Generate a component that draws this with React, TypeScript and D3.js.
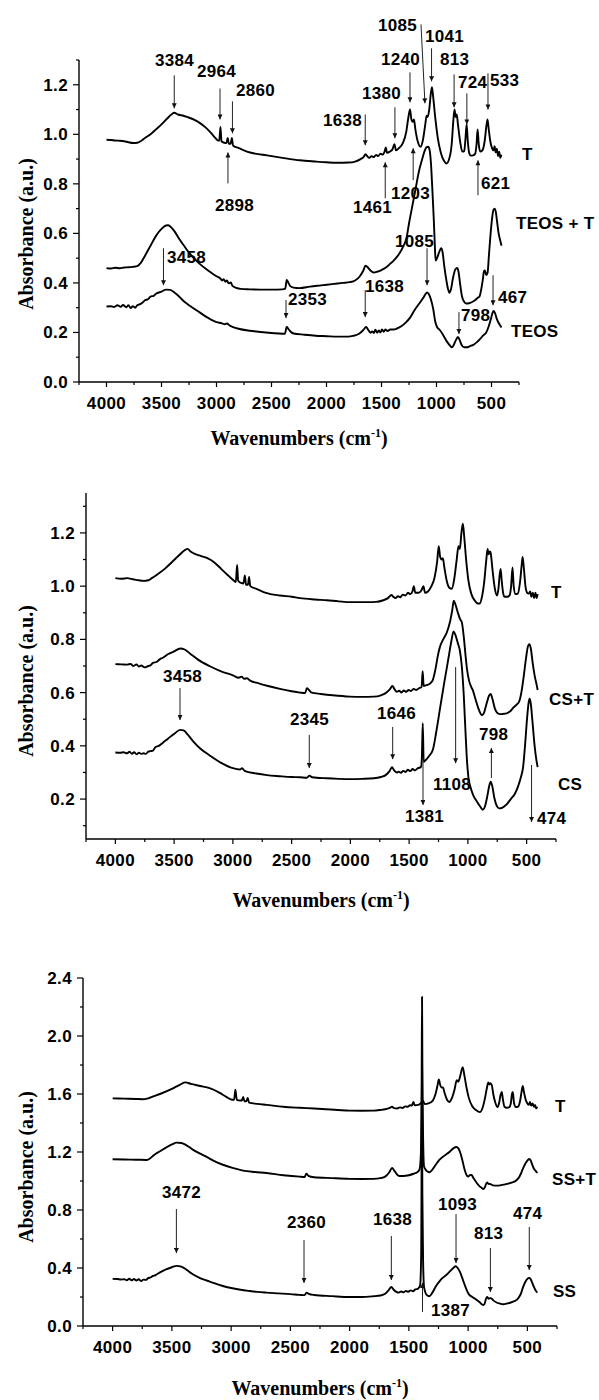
import React from 'react';
import * as d3 from 'd3';

type Pt = [number, number];
type Ann = { label: string; wn: number; from: number; to: number; lx: number; ly: number; wnTip?: number };
type Lab = { text: string; lx: number; ly: number };

// ---------- shared axis data ----------
const X_DOMAIN: [number, number] = [4250, 250];
const X_TICKS = [4000, 3500, 3000, 2500, 2000, 1500, 1000, 500];
const X_MINOR = [4250, 3750, 3250, 2750, 2250, 1750, 1250, 750, 250];
const X_TITLE = 'Wavenumbers (cm';
const Y_TITLE = 'Absorbance (a.u.)';

// ---------- Panel A : T / TEOS + T / TEOS ----------
const A_Y_TICKS = [0, 0.2, 0.4, 0.6, 0.8, 1.0, 1.2];
const A_Y_MINOR = [0.1, 0.3, 0.5, 0.7, 0.9, 1.1, 1.3];
const A_T: Pt[] = [
  [4000, 0.978], [3960, 0.977], [3920, 0.975], [3880, 0.974], [3840, 0.972], [3800, 0.968], [3760, 0.965],
  [3720, 0.966], [3690, 0.972], [3650, 0.985], [3600, 1.0], [3550, 1.02], [3500, 1.04], [3450, 1.063],
  [3410, 1.08], [3384, 1.087], [3350, 1.08], [3300, 1.075], [3268, 1.07], [3200, 1.058], [3150, 1.045],
  [3100, 1.028], [3059, 1.01], [3020, 0.99], [2990, 0.976], [2975, 0.974], [2964, 1.03], [2955, 0.972],
  [2930, 0.966], [2910, 0.965], [2898, 0.985], [2888, 0.962], [2872, 0.962], [2860, 0.985], [2850, 0.955],
  [2800, 0.945], [2723, 0.93], [2650, 0.922], [2541, 0.915], [2400, 0.905], [2241, 0.895], [2100, 0.89],
  [2000, 0.887], [1900, 0.885], [1800, 0.886], [1740, 0.89], [1690, 0.9], [1660, 0.91], [1645, 0.92],
  [1630, 0.912], [1610, 0.905], [1590, 0.912], [1570, 0.908], [1550, 0.917], [1530, 0.912], [1510, 0.922],
  [1490, 0.918], [1472, 0.93], [1461, 0.947], [1450, 0.925], [1425, 0.93], [1400, 0.94], [1382, 0.96],
  [1368, 0.935], [1340, 0.945], [1305, 0.965], [1275, 1.01], [1255, 1.07], [1241, 1.10], [1228, 1.06],
  [1216, 1.05], [1205, 1.06], [1192, 1.02], [1170, 0.97], [1145, 0.95], [1122, 0.98], [1102, 1.04],
  [1090, 1.075], [1080, 1.07], [1066, 1.1], [1050, 1.17], [1041, 1.19], [1030, 1.15], [1012, 1.07],
  [990, 0.99], [960, 0.925], [932, 0.893], [909, 0.882], [885, 0.9], [862, 0.96], [846, 1.06], [836, 1.10],
  [826, 1.07], [816, 1.08], [805, 1.04], [785, 0.97], [765, 0.93], [748, 0.932], [737, 0.98], [726, 1.04],
  [716, 0.975], [703, 0.925], [688, 0.914], [668, 0.915], [648, 0.922], [636, 0.96], [626, 1.02],
  [616, 0.96], [602, 0.93], [583, 0.935], [563, 0.97], [546, 1.035], [536, 1.06], [525, 1.02], [510, 0.97],
  [496, 0.945], [482, 0.935], [472, 0.952], [462, 0.927], [452, 0.942], [440, 0.912], [430, 0.93],
  [420, 0.905], [410, 0.918],
];
const A_TEOS_T: Pt[] = [
  [4000, 0.46], [3960, 0.458], [3920, 0.461], [3880, 0.459], [3840, 0.462], [3800, 0.463], [3760, 0.465],
  [3720, 0.468], [3690, 0.48], [3650, 0.51], [3600, 0.55], [3550, 0.59], [3500, 0.618], [3460, 0.632],
  [3440, 0.633], [3420, 0.628], [3380, 0.607], [3340, 0.578], [3300, 0.553], [3250, 0.522], [3200, 0.497],
  [3150, 0.476], [3100, 0.458], [3050, 0.442], [3000, 0.427], [2965, 0.418], [2950, 0.41], [2935, 0.415],
  [2920, 0.405], [2905, 0.41], [2890, 0.398], [2870, 0.402], [2855, 0.388], [2820, 0.38], [2780, 0.376],
  [2700, 0.374], [2600, 0.373], [2500, 0.373], [2400, 0.374], [2375, 0.377], [2362, 0.412], [2348, 0.402],
  [2330, 0.387], [2300, 0.381], [2245, 0.379], [2150, 0.385], [2050, 0.39], [1950, 0.395], [1850, 0.4],
  [1790, 0.403], [1740, 0.41], [1700, 0.425], [1665, 0.45], [1645, 0.47], [1630, 0.465], [1600, 0.45],
  [1570, 0.442], [1540, 0.445], [1500, 0.452], [1460, 0.462], [1427, 0.475], [1390, 0.49], [1360, 0.505],
  [1336, 0.52], [1300, 0.55], [1273, 0.58], [1250, 0.64], [1220, 0.71], [1190, 0.78], [1160, 0.85],
  [1130, 0.9], [1110, 0.93], [1090, 0.948], [1075, 0.95], [1062, 0.935], [1050, 0.88], [1038, 0.78],
  [1025, 0.66], [1015, 0.55], [1008, 0.49], [995, 0.5], [975, 0.525], [958, 0.54], [945, 0.525],
  [930, 0.47], [910, 0.41], [895, 0.375], [882, 0.36], [868, 0.375], [850, 0.42], [828, 0.455], [812, 0.46],
  [800, 0.445], [785, 0.395], [768, 0.345], [750, 0.325], [730, 0.317], [705, 0.318], [680, 0.322],
  [650, 0.33], [625, 0.34], [609, 0.345], [595, 0.37], [580, 0.41], [568, 0.447], [560, 0.45], [548, 0.432],
  [536, 0.44], [522, 0.52], [508, 0.6], [495, 0.66], [482, 0.695], [472, 0.70], [462, 0.69], [450, 0.65],
  [435, 0.6], [420, 0.57], [409, 0.55],
];
const A_TEOS: Pt[] = [
  [4000, 0.305], [3960, 0.306], [3930, 0.303], [3900, 0.31], [3870, 0.304], [3850, 0.311], [3820, 0.302],
  [3800, 0.31], [3780, 0.299], [3760, 0.306], [3740, 0.3], [3720, 0.31], [3700, 0.313], [3680, 0.318],
  [3650, 0.33], [3620, 0.335], [3600, 0.345], [3570, 0.348], [3550, 0.356], [3500, 0.365], [3458, 0.373],
  [3420, 0.372], [3380, 0.36], [3340, 0.345], [3300, 0.327], [3250, 0.31], [3200, 0.295], [3150, 0.28],
  [3100, 0.265], [3050, 0.252], [3000, 0.242], [2950, 0.237], [2925, 0.233], [2905, 0.236], [2880, 0.228],
  [2850, 0.222], [2800, 0.215], [2700, 0.207], [2600, 0.202], [2500, 0.198], [2400, 0.195], [2378, 0.195],
  [2362, 0.222], [2348, 0.215], [2330, 0.205], [2300, 0.196], [2200, 0.191], [2100, 0.187], [2000, 0.185],
  [1900, 0.183], [1800, 0.183], [1760, 0.186], [1700, 0.196], [1665, 0.21], [1640, 0.222], [1620, 0.21],
  [1600, 0.199], [1585, 0.204], [1570, 0.198], [1555, 0.211], [1540, 0.199], [1525, 0.208], [1510, 0.2],
  [1495, 0.212], [1480, 0.203], [1465, 0.212], [1445, 0.206], [1420, 0.212], [1390, 0.212], [1360, 0.216],
  [1320, 0.225], [1280, 0.24], [1240, 0.26], [1200, 0.29], [1160, 0.315], [1120, 0.34], [1100, 0.355],
  [1086, 0.362], [1072, 0.356], [1052, 0.335], [1030, 0.295], [1012, 0.245], [995, 0.222], [970, 0.21],
  [940, 0.19], [905, 0.163], [875, 0.146], [860, 0.14], [845, 0.148], [825, 0.168], [805, 0.182],
  [790, 0.17], [770, 0.148], [748, 0.14], [722, 0.14], [695, 0.145], [665, 0.15], [635, 0.16], [605, 0.173],
  [575, 0.188], [548, 0.2], [525, 0.225], [505, 0.255], [490, 0.28], [480, 0.287], [468, 0.278],
  [452, 0.255], [432, 0.236], [418, 0.226], [409, 0.22],
];
const A_ANN: Ann[] = [
  { label: '3384', wn: 3384, from: 1.238, to: 1.105, lx: 3559, ly: 1.274 },
  { label: '2964', wn: 2968, from: 1.185, to: 1.06, lx: 3177, ly: 1.23 },
  { label: '2860', wn: 2855, from: 1.133, to: 1.004, lx: 2823, ly: 1.153 },
  { label: '2898', wn: 2896, from: 0.802, to: 0.927, lx: 3014, ly: 0.69 },
  { label: '1638', wn: 1648, from: 1.08, to: 0.956, lx: 2032, ly: 1.032 },
  { label: '1380', wn: 1378, from: 1.109, to: 0.984, lx: 1677, ly: 1.141 },
  { label: '1240', wn: 1241, from: 1.25, to: 1.129, lx: 1505, ly: 1.278 },
  { label: '1085', wn: 1141, wnTip: 1105, from: 1.444, to: 1.125, lx: 1532, ly: 1.419 },
  { label: '1041', wn: 1045, from: 1.347, to: 1.214, lx: 1105, ly: 1.371 },
  { label: '813', wn: 840, from: 1.242, to: 1.109, lx: 968, ly: 1.278 },
  { label: '724', wn: 724, from: 1.165, to: 1.04, lx: 805, ly: 1.185 },
  { label: '533', wn: 532, from: 1.246, to: 1.1, lx: 514, ly: 1.194 },
  { label: '1461', wn: 1466, from: 0.742, to: 0.887, lx: 1759, ly: 0.681 },
  { label: '1203', wn: 1212, from: 0.815, to: 0.944, lx: 1414, ly: 0.738 },
  { label: '621', wn: 623, from: 0.754, to: 0.895, lx: 595, ly: 0.778 },
  { label: '3458', wn: 3482, from: 0.54, to: 0.391, lx: 3450, ly: 0.48 },
  { label: '2353', wn: 2368, from: 0.331, to: 0.258, lx: 2350, ly: 0.31 },
  { label: '1638', wn: 1648, from: 0.371, to: 0.262, lx: 1650, ly: 0.363 },
  { label: '1085', wn: 1086, from: 0.54, to: 0.391, lx: 1377, ly: 0.544 },
  { label: '798', wn: 796, from: 0.282, to: 0.194, lx: 777, ly: 0.246 },
  { label: '467', wn: 486, from: 0.431, to: 0.31, lx: 441, ly: 0.319 },
];
const A_LAB: Lab[] = [
  { text: 'T', lx: 223, ly: 0.895 },
  { text: 'TEOS + T', lx: 277, ly: 0.617 },
  { text: 'TEOS', lx: 323, ly: 0.181 },
];

// ---------- Panel B : T / CS+T / CS ----------
const B_Y_TICKS = [0.2, 0.4, 0.6, 0.8, 1.0, 1.2];
const B_Y_MINOR = [0.1, 0.3, 0.5, 0.7, 0.9, 1.1, 1.3];
const B_T: Pt[] = [
  [4000, 1.03], [3950, 1.028], [3900, 1.03], [3850, 1.026], [3800, 1.022], [3760, 1.02], [3720, 1.022],
  [3690, 1.03], [3640, 1.045], [3580, 1.065], [3520, 1.09], [3460, 1.115], [3410, 1.135], [3385, 1.14],
  [3360, 1.13], [3320, 1.12], [3270, 1.113], [3218, 1.105], [3160, 1.09], [3100, 1.065], [3040, 1.04],
  [2990, 1.02], [2975, 1.015], [2964, 1.08], [2955, 1.02], [2930, 1.012], [2910, 1.01], [2898, 1.04],
  [2888, 1.005], [2872, 1.005], [2862, 1.035], [2852, 1.0], [2800, 0.99], [2720, 0.975], [2600, 0.965],
  [2500, 0.96], [2428, 0.955], [2300, 0.95], [2200, 0.947], [2100, 0.943], [2000, 0.94], [1919, 0.94],
  [1850, 0.94], [1780, 0.941], [1720, 0.947], [1680, 0.955], [1650, 0.967], [1635, 0.96], [1615, 0.955],
  [1595, 0.962], [1575, 0.958], [1555, 0.968], [1530, 0.965], [1510, 0.975], [1490, 0.97], [1472, 0.98],
  [1460, 1.0], [1448, 0.975], [1420, 0.975], [1395, 0.985], [1378, 1.0], [1365, 0.975], [1340, 0.98],
  [1310, 1.0], [1285, 1.03], [1262, 1.09], [1248, 1.15], [1236, 1.11], [1222, 1.1], [1213, 1.105],
  [1200, 1.07], [1180, 1.02], [1160, 0.995], [1137, 0.99], [1115, 1.03], [1095, 1.1], [1080, 1.15],
  [1068, 1.14], [1055, 1.2], [1043, 1.235], [1032, 1.19], [1015, 1.1], [995, 1.02], [970, 0.97],
  [940, 0.945], [915, 0.935], [899, 0.935], [880, 0.96], [860, 1.02], [843, 1.1], [832, 1.14], [824, 1.12],
  [812, 1.13], [806, 1.125], [790, 1.06], [772, 0.995], [752, 0.965], [740, 0.99], [730, 1.04],
  [721, 1.065], [712, 1.02], [700, 0.975], [688, 0.96], [665, 0.96], [645, 0.965], [632, 1.0], [620, 1.07],
  [610, 1.0], [595, 0.97], [575, 0.972], [555, 1.02], [542, 1.08], [534, 1.11], [524, 1.07], [510, 1.0],
  [495, 0.975], [482, 0.972], [470, 0.98], [460, 0.96], [448, 0.975], [436, 0.955], [425, 0.975],
  [415, 0.955], [406, 0.97],
];
const B_CST: Pt[] = [
  [4000, 0.707], [3950, 0.706], [3900, 0.705], [3870, 0.708], [3850, 0.7], [3820, 0.706], [3800, 0.698],
  [3780, 0.702], [3750, 0.695], [3720, 0.7], [3700, 0.703], [3680, 0.712], [3650, 0.715], [3620, 0.726],
  [3600, 0.73], [3550, 0.745], [3500, 0.755], [3448, 0.766], [3410, 0.762], [3360, 0.745], [3300, 0.725],
  [3200, 0.7], [3100, 0.68], [3000, 0.665], [2950, 0.656], [2925, 0.66], [2905, 0.652], [2880, 0.654],
  [2853, 0.645], [2780, 0.635], [2700, 0.625], [2600, 0.614], [2500, 0.605], [2428, 0.6], [2385, 0.598],
  [2370, 0.617], [2352, 0.61], [2330, 0.6], [2250, 0.595], [2150, 0.59], [2004, 0.585], [1900, 0.584],
  [1800, 0.585], [1740, 0.59], [1700, 0.598], [1665, 0.612], [1642, 0.625], [1625, 0.613], [1605, 0.603],
  [1585, 0.607], [1565, 0.6], [1545, 0.608], [1525, 0.603], [1505, 0.61], [1485, 0.606], [1460, 0.614],
  [1440, 0.61], [1410, 0.618], [1394, 0.62], [1385, 0.68], [1376, 0.625], [1350, 0.628], [1320, 0.635],
  [1298, 0.648], [1275, 0.69], [1255, 0.74], [1239, 0.77], [1210, 0.8], [1180, 0.825], [1150, 0.87],
  [1133, 0.91], [1120, 0.945], [1105, 0.93], [1085, 0.9], [1065, 0.875], [1052, 0.865], [1035, 0.81],
  [1020, 0.74], [1008, 0.69], [990, 0.645], [970, 0.62], [959, 0.61], [935, 0.575], [910, 0.54],
  [890, 0.52], [880, 0.515], [862, 0.525], [840, 0.56], [818, 0.59], [806, 0.595], [792, 0.578],
  [770, 0.54], [748, 0.523], [725, 0.519], [700, 0.52], [670, 0.522], [640, 0.53], [610, 0.545],
  [585, 0.555], [565, 0.565], [545, 0.6], [525, 0.66], [505, 0.73], [488, 0.775], [476, 0.782],
  [464, 0.765], [448, 0.71], [430, 0.66], [415, 0.63], [406, 0.61],
];
const B_CS: Pt[] = [
  [4000, 0.375], [3960, 0.374], [3930, 0.376], [3900, 0.372], [3880, 0.378], [3860, 0.37], [3840, 0.376],
  [3820, 0.368], [3800, 0.374], [3780, 0.37], [3760, 0.372], [3740, 0.37], [3720, 0.378], [3700, 0.38],
  [3680, 0.382], [3660, 0.395], [3630, 0.4], [3600, 0.41], [3550, 0.428], [3500, 0.445], [3448, 0.46],
  [3420, 0.458], [3380, 0.44], [3330, 0.413], [3278, 0.39], [3200, 0.365], [3100, 0.336], [3000, 0.316],
  [2940, 0.311], [2922, 0.316], [2900, 0.306], [2800, 0.296], [2710, 0.29], [2600, 0.286], [2500, 0.283],
  [2428, 0.282], [2370, 0.28], [2348, 0.288], [2325, 0.282], [2200, 0.278], [2100, 0.276], [2004, 0.275],
  [1900, 0.276], [1800, 0.278], [1740, 0.283], [1700, 0.29], [1665, 0.306], [1646, 0.32], [1628, 0.308],
  [1605, 0.3], [1588, 0.303], [1570, 0.299], [1550, 0.306], [1530, 0.302], [1510, 0.31], [1490, 0.305],
  [1470, 0.313], [1450, 0.308], [1425, 0.316], [1400, 0.32], [1392, 0.35], [1384, 0.485], [1376, 0.34],
  [1362, 0.345], [1330, 0.362], [1298, 0.385], [1270, 0.45], [1239, 0.535], [1200, 0.64], [1165, 0.73],
  [1140, 0.795], [1122, 0.83], [1105, 0.815], [1085, 0.785], [1069, 0.76], [1052, 0.7], [1035, 0.59],
  [1020, 0.45], [1007, 0.34], [995, 0.28], [978, 0.245], [955, 0.215], [925, 0.192], [895, 0.172],
  [874, 0.16], [855, 0.172], [835, 0.21], [818, 0.25], [806, 0.265], [792, 0.248], [775, 0.205],
  [755, 0.175], [735, 0.165], [705, 0.168], [670, 0.18], [635, 0.2], [600, 0.22], [575, 0.245],
  [550, 0.28], [530, 0.32], [512, 0.41], [495, 0.51], [482, 0.565], [474, 0.577], [465, 0.56],
  [450, 0.49], [432, 0.4], [418, 0.35], [406, 0.32],
];
const B_ANN: Ann[] = [
  { label: '3458', wn: 3450, from: 0.617, to: 0.497, lx: 3595, ly: 0.64 },
  { label: '2345', wn: 2350, from: 0.441, to: 0.317, lx: 2514, ly: 0.478 },
  { label: '1646', wn: 1640, from: 0.471, to: 0.35, lx: 1773, ly: 0.5 },
  { label: '1381', wn: 1382, from: 0.358, to: 0.178, lx: 1535, ly: 0.114 },
  { label: '1108', wn: 1104, from: 0.696, to: 0.335, lx: 1297, ly: 0.234 },
  { label: '798', wn: 800, from: 0.279, to: 0.392, lx: 905, ly: 0.422 },
  { label: '474', wn: 458, from: 0.328, to: 0.114, lx: 412, ly: 0.107 },
];
const B_LAB: Lab[] = [
  { text: 'T', lx: 293, ly: 0.955 },
  { text: 'CS+T', lx: 310, ly: 0.554 },
  { text: 'CS', lx: 233, ly: 0.234 },
];

// ---------- Panel C : T / SS+T / SS ----------
const C_Y_TICKS = [0, 0.4, 0.8, 1.2, 1.6, 2.0, 2.4];
const C_Y_MINOR = [0.2, 0.6, 1.0, 1.4, 1.8, 2.2];
const C_T: Pt[] = [
  [4000, 1.57], [3900, 1.568], [3800, 1.566], [3750, 1.564], [3700, 1.57], [3650, 1.585], [3600, 1.6],
  [3500, 1.635], [3430, 1.665], [3385, 1.68], [3340, 1.67], [3260, 1.655], [3182, 1.64], [3100, 1.61],
  [3040, 1.58], [2988, 1.56], [2975, 1.56], [2964, 1.63], [2952, 1.56], [2925, 1.555], [2910, 1.555],
  [2898, 1.58], [2888, 1.55], [2872, 1.55], [2860, 1.572], [2848, 1.54], [2780, 1.532], [2700, 1.525],
  [2560, 1.512], [2423, 1.505], [2300, 1.5], [2200, 1.495], [2100, 1.49], [2002, 1.485], [1900, 1.484],
  [1800, 1.485], [1740, 1.49], [1700, 1.495], [1665, 1.503], [1642, 1.512], [1625, 1.503], [1600, 1.5],
  [1575, 1.508], [1555, 1.503], [1530, 1.515], [1510, 1.512], [1490, 1.522], [1475, 1.52], [1462, 1.545],
  [1450, 1.522], [1420, 1.525], [1400, 1.535], [1380, 1.552], [1366, 1.53], [1335, 1.535], [1300, 1.553],
  [1275, 1.6], [1258, 1.66], [1247, 1.7], [1235, 1.66], [1222, 1.645], [1213, 1.645], [1198, 1.605],
  [1178, 1.56], [1160, 1.545], [1138, 1.57], [1115, 1.63], [1096, 1.695], [1084, 1.685], [1068, 1.72],
  [1046, 1.785], [1032, 1.73], [1015, 1.65], [995, 1.575], [965, 1.515], [935, 1.49], [901, 1.475],
  [880, 1.5], [858, 1.57], [842, 1.64], [830, 1.68], [821, 1.665], [812, 1.675], [800, 1.66], [788, 1.6],
  [772, 1.545], [752, 1.51], [738, 1.54], [726, 1.595], [716, 1.615], [706, 1.56], [693, 1.512],
  [675, 1.505], [655, 1.508], [640, 1.535], [630, 1.6], [623, 1.615], [613, 1.54], [597, 1.51],
  [580, 1.512], [562, 1.55], [548, 1.62], [539, 1.655], [528, 1.61], [514, 1.56], [500, 1.535],
  [488, 1.525], [478, 1.545], [468, 1.52], [456, 1.535], [445, 1.512], [435, 1.525], [425, 1.5],
  [416, 1.512],
];
const C_SST: Pt[] = [
  [4000, 1.15], [3900, 1.148], [3800, 1.147], [3713, 1.145], [3680, 1.158], [3650, 1.18], [3600, 1.205],
  [3550, 1.23], [3500, 1.252], [3460, 1.265], [3420, 1.262], [3380, 1.248], [3330, 1.22], [3266, 1.19],
  [3200, 1.163], [3150, 1.14], [3070, 1.112], [2988, 1.09], [2900, 1.072], [2800, 1.062], [2702, 1.055],
  [2560, 1.04], [2423, 1.03], [2380, 1.028], [2365, 1.05], [2348, 1.036], [2300, 1.026], [2150, 1.02],
  [2002, 1.015], [1900, 1.014], [1800, 1.015], [1740, 1.02], [1700, 1.03], [1665, 1.06], [1642, 1.09],
  [1622, 1.07], [1600, 1.045], [1580, 1.035], [1550, 1.035], [1500, 1.04], [1460, 1.05], [1430, 1.06],
  [1410, 1.08], [1398, 1.2], [1392, 1.7], [1389, 2.27], [1386, 1.8], [1380, 1.3], [1372, 1.1],
  [1350, 1.07], [1327, 1.06], [1305, 1.075], [1275, 1.11], [1243, 1.145], [1200, 1.175], [1158, 1.2],
  [1125, 1.225], [1100, 1.235], [1082, 1.225], [1066, 1.195], [1049, 1.145], [1030, 1.08], [1012, 1.04],
  [1000, 1.03], [985, 1.04], [972, 1.042], [955, 1.02], [930, 0.99], [905, 0.965], [885, 0.952],
  [873, 0.945], [860, 0.955], [848, 0.98], [839, 0.99], [828, 0.98], [810, 0.978], [790, 0.97],
  [760, 0.968], [730, 0.97], [700, 0.975], [660, 0.982], [627, 0.99], [600, 1.0], [575, 1.02],
  [555, 1.05], [540, 1.08], [520, 1.115], [500, 1.14], [486, 1.152], [474, 1.145], [460, 1.115],
  [445, 1.085], [430, 1.07], [416, 1.055],
];
const C_SS: Pt[] = [
  [4000, 0.325], [3960, 0.324], [3930, 0.321], [3900, 0.322], [3880, 0.316], [3860, 0.326], [3840, 0.315],
  [3820, 0.324], [3800, 0.314], [3780, 0.322], [3760, 0.31], [3740, 0.32], [3720, 0.318], [3700, 0.33],
  [3680, 0.335], [3660, 0.345], [3640, 0.35], [3600, 0.37], [3550, 0.39], [3500, 0.405], [3460, 0.415],
  [3420, 0.41], [3380, 0.39], [3330, 0.36], [3266, 0.332], [3200, 0.312], [3150, 0.297], [3070, 0.276],
  [2988, 0.26], [2920, 0.25], [2850, 0.242], [2780, 0.235], [2702, 0.23], [2600, 0.225], [2500, 0.22],
  [2423, 0.215], [2380, 0.213], [2364, 0.23], [2345, 0.222], [2300, 0.214], [2150, 0.206], [2002, 0.2],
  [1900, 0.2], [1800, 0.205], [1740, 0.21], [1700, 0.222], [1668, 0.25], [1648, 0.27], [1628, 0.25],
  [1605, 0.235], [1585, 0.23], [1565, 0.238], [1545, 0.232], [1525, 0.242], [1505, 0.236], [1485, 0.246],
  [1465, 0.24], [1445, 0.252], [1425, 0.256], [1405, 0.28], [1396, 0.5], [1390, 1.5], [1386, 0.9],
  [1380, 0.45], [1372, 0.27], [1350, 0.215], [1327, 0.205], [1300, 0.232], [1268, 0.28], [1240, 0.31],
  [1218, 0.33], [1180, 0.355], [1150, 0.38], [1125, 0.4], [1106, 0.412], [1088, 0.4], [1070, 0.375],
  [1049, 0.33], [1025, 0.275], [1005, 0.235], [993, 0.218], [965, 0.2], [935, 0.185], [905, 0.165],
  [885, 0.15], [873, 0.145], [862, 0.152], [848, 0.19], [839, 0.2], [828, 0.188], [815, 0.192],
  [805, 0.19], [785, 0.175], [760, 0.162], [735, 0.155], [705, 0.15], [670, 0.155], [640, 0.162],
  [610, 0.172], [590, 0.18], [570, 0.2], [552, 0.228], [538, 0.265], [520, 0.3], [500, 0.325],
  [486, 0.332], [474, 0.325], [460, 0.3], [445, 0.27], [430, 0.245], [416, 0.23],
];
const C_ANN: Ann[] = [
  { label: '3472', wn: 3462, from: 0.807, to: 0.503, lx: 3583, ly: 0.883 },
  { label: '2360', wn: 2385, from: 0.593, to: 0.297, lx: 2528, ly: 0.676 },
  { label: '1638', wn: 1648, from: 0.621, to: 0.317, lx: 1803, ly: 0.697 },
  { label: '1093', wn: 1102, from: 0.772, to: 0.434, lx: 1254, ly: 0.8 },
  { label: '813', wn: 812, from: 0.538, to: 0.234, lx: 950, ly: 0.6 },
  { label: '474', wn: 484, from: 0.683, to: 0.386, lx: 621, ly: 0.738 },
  { label: '1387', wn: 1385, from: 0.097, to: 0.297, lx: 1313, ly: 0.069 },
];
const C_LAB: Lab[] = [
  { text: 'T', lx: 267, ly: 1.476 },
  { text: 'SS+T', lx: 292, ly: 0.972 },
  { text: 'SS', lx: 284, ly: 0.2 },
];

// ---------- layout ----------
type Cfg = {
  left: number; right: number; top: number; bottom: number; yDomain: [number, number];
  titleDy: number; yLabelDy: number;
};
const SANS = '"Liberation Sans", Arial, Helvetica, sans-serif';
const SERIF = '"Liberation Serif", "Times New Roman", Times, serif';

function Panel(props: {
  id: string; cfg: Cfg; series: Pt[][]; anns: Ann[]; labs: Lab[]; yTicks: number[]; yMinor: number[];
}) {
  const { id, cfg, series, anns, labs, yTicks, yMinor } = props;
  const x = d3.scaleLinear().domain(X_DOMAIN).range([cfg.left, cfg.right]);
  const y = d3.scaleLinear().domain(cfg.yDomain).range([cfg.bottom, cfg.top]);
  const line = d3.line<Pt>().x(d => x(d[0])).y(d => y(d[1])).curve(d3.curveMonotoneX);
  const fmt = d3.format('.1f');
  const cx = (cfg.left + cfg.right) / 2;
  const cy = (cfg.top + cfg.bottom) / 2 + cfg.yLabelDy;
  return (
    <g>
      <defs>
        <marker id={`ah-${id}`} viewBox="0 0 10 10" refX="10" refY="5" markerUnits="userSpaceOnUse"
          markerWidth="7" markerHeight="5" orient="auto">
          <path d="M0,0 L10,5 L0,10 z" fill="#111" />
        </marker>
      </defs>
      {series.map((s, i) => (
        <path key={i} d={line(s) || ''} fill="none" stroke="#000" strokeWidth={1.9} strokeLinejoin="round" />
      ))}
      {/* axes */}
      <line x1={cfg.left} x2={cfg.right} y1={cfg.bottom} y2={cfg.bottom} stroke="#000" strokeWidth={1.4} />
      <line x1={cfg.left} x2={cfg.left} y1={cfg.top} y2={cfg.bottom} stroke="#000" strokeWidth={1.4} />
      {X_TICKS.map(t => (
        <g key={'xt' + t}>
          <line x1={x(t)} x2={x(t)} y1={cfg.bottom} y2={cfg.bottom + 5} stroke="#000" strokeWidth={1.2} />
          <text x={x(t)} y={cfg.bottom + 27} textAnchor="middle" fontFamily={SANS} fontWeight="bold"
            fontSize={17} letterSpacing={0.4}>{t}</text>
        </g>
      ))}
      {X_MINOR.map(t => (
        <line key={'xm' + t} x1={x(t)} x2={x(t)} y1={cfg.bottom} y2={cfg.bottom + 3} stroke="#000" strokeWidth={1.2} />
      ))}
      {yTicks.map(t => (
        <g key={'yt' + t}>
          <line x1={cfg.left - 6} x2={cfg.left} y1={y(t)} y2={y(t)} stroke="#000" strokeWidth={1.2} />
          <text x={cfg.left - 11} y={y(t) + 6} textAnchor="end" fontFamily={SANS} fontWeight="bold"
            fontSize={17} letterSpacing={0.4}>{fmt(t)}</text>
        </g>
      ))}
      {yMinor.map(t => (
        <line key={'ym' + t} x1={cfg.left - 3} x2={cfg.left} y1={y(t)} y2={y(t)} stroke="#000" strokeWidth={1.2} />
      ))}
      <text x={cx} y={cfg.bottom + cfg.titleDy} textAnchor="middle" fontFamily={SERIF} fontWeight="bold" fontSize={20}>
        {X_TITLE}<tspan fontSize={12} dy={-8}>-1</tspan><tspan dy={8}>)</tspan>
      </text>
      <text transform={`translate(33,${cy}) rotate(-90)`} textAnchor="middle" fontFamily={SERIF}
        fontWeight="bold" fontSize={20}>{Y_TITLE}</text>
      {/* annotations */}
      {anns.map((a, i) => (
        <g key={'a' + i}>
          <line x1={x(a.wn)} y1={y(a.from)} x2={x(a.wnTip ?? a.wn)} y2={y(a.to)} stroke="#222" strokeWidth={1}
            markerEnd={`url(#ah-${id})`} />
          <text x={x(a.lx)} y={y(a.ly)} fontFamily={SANS} fontWeight="bold" fontSize={17} letterSpacing={0.3}>{a.label}</text>
        </g>
      ))}
      {labs.map((l, i) => (
        <text key={'l' + i} x={x(l.lx)} y={y(l.ly)} fontFamily={SANS} fontWeight="bold" fontSize={17} letterSpacing={0.3}>{l.text}</text>
      ))}
    </g>
  );
}

const CFG_A: Cfg = { left: 79, right: 519, top: 60, bottom: 382, yDomain: [0, 1.3], titleDy: 63, yLabelDy: 13 };
const CFG_B: Cfg = { left: 86, right: 556, top: 493, bottom: 839, yDomain: [0.05, 1.35], titleDy: 68, yLabelDy: 15 };
const CFG_C: Cfg = { left: 83, right: 557, top: 978, bottom: 1326, yDomain: [0, 2.4], titleDy: 69, yLabelDy: 15 };

export default function App() {
  return (
    <svg width={599} height={1400} style={{ position: 'absolute', left: 0, top: 0, background: '#fff' }}>
      <rect width={599} height={1400} fill="#fff" />
      <Panel id="a" cfg={CFG_A} series={[A_T, A_TEOS_T, A_TEOS]} anns={A_ANN} labs={A_LAB} yTicks={A_Y_TICKS} yMinor={A_Y_MINOR} />
      <Panel id="b" cfg={CFG_B} series={[B_T, B_CST, B_CS]} anns={B_ANN} labs={B_LAB} yTicks={B_Y_TICKS} yMinor={B_Y_MINOR} />
      <Panel id="c" cfg={CFG_C} series={[C_T, C_SST, C_SS]} anns={C_ANN} labs={C_LAB} yTicks={C_Y_TICKS} yMinor={C_Y_MINOR} />
    </svg>
  );
}
